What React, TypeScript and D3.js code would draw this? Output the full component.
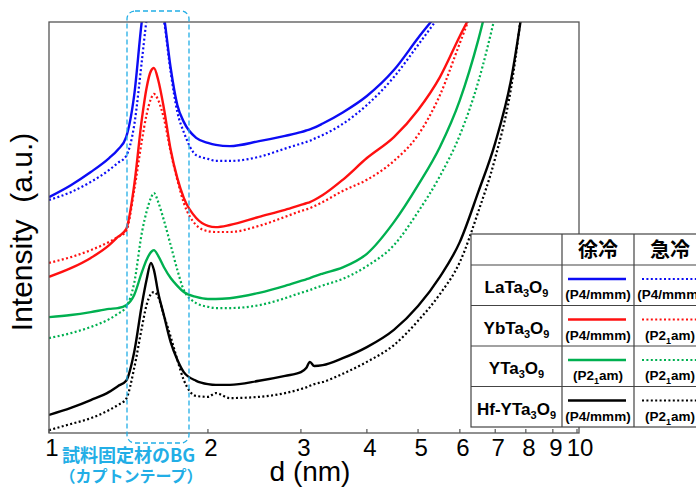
import React from 'react';
import * as d3 from 'd3';

// d spacing grid (nm) shared by every curve
const D = [1.0, 1.1, 1.2, 1.3, 1.35, 1.4, 1.45, 1.5, 1.53, 1.56, 1.58, 1.61, 1.65, 1.7, 1.75, 1.8, 1.9, 2.0, 2.07, 2.2,
  2.5, 2.8, 3.0, 3.07, 3.12, 3.18, 3.3, 3.6, 4, 4.5, 5, 5.5, 6, 6.5, 7, 7.5, 8, 8.5];

// intensity (a.u.), null = beyond the frame
const LA_SLOW = [57.4, 60.3, 63.5, 66.9, 68.9, 72.0, 82.2, 100.5, 107.8, 112.7, 115.1, 110.2, 101.7, 88.8, 79.8, 75.7, 71.8, 70.6, 70.1, 69.8,
  71.0, 72.3, 73.2, 73.6, 73.9, 74.3, 75.3, 78.0, 82.0, 88.3, 96.1, 102.9, 110.2, null, null, null, null, null];
const LA_QUENCH = [56.7, 58.6, 61.1, 64.0, 65.7, 67.4, 74.9, 90.8, 100.5, 107.8, 110.2, 106.6, 100.5, 87.8, 78.1, 73.2, 67.6, 66.7, 66.2, 66.2,
  67.2, 69.2, 70.4, 70.8, 71.1, 71.6, 72.5, 75.2, 79.8, 86.6, 94.4, 101.7, 109.0, null, null, null, null, null];
const YB_SLOW = [38.0, 40.1, 42.6, 45.7, 47.7, 49.6, 60.3, 76.6, 83.9, 88.1, 88.8, 85.9, 79.1, 68.9, 62.0, 57.2, 52.3, 50.4, 50.1, 50.6,
  52.6, 54.3, 55.5, 55.9, 56.2, 56.7, 57.9, 61.6, 66.9, 72.0, 78.6, 86.6, 96.6, 105.4, 115.1, null, null, null];
const YB_QUENCH = [41.4, 42.8, 44.5, 46.5, 47.7, 49.1, 59.1, 71.3, 77.4, 81.3, 82.5, 81.0, 76.6, 68.4, 61.6, 56.0, 50.6, 49.1, 48.9, 48.9,
  50.4, 52.6, 54.0, 54.4, 54.7, 55.2, 56.2, 58.9, 61.6, 66.2, 72.5, 82.2, 94.9, 106.6, 117.5, null, null, null];
const Y_SLOW = [28.2, 28.7, 29.4, 30.2, 30.4, 31.1, 33.6, 39.2, 42.1, 44.0, 44.5, 43.1, 40.4, 37.7, 35.8, 34.3, 33.1, 32.6, 32.6, 32.8,
  34.1, 35.8, 37.0, 37.4, 37.7, 38.1, 38.8, 40.3, 43.6, 51.3, 60.3, 69.6, 81.0, 95.6, 112.7, null, null, null];
const Y_QUENCH = [23.1, 24.3, 25.8, 27.7, 29.0, 30.7, 36.5, 48.9, 53.8, 57.2, 58.4, 56.2, 51.8, 45.7, 39.7, 34.8, 31.6, 30.7, 30.4, 30.4,
  31.1, 32.8, 34.1, 34.5, 34.8, 35.2, 35.9, 37.5, 40.6, 45.7, 53.8, 62.5, 72.5, 85.4, 101.7, 120.0, null, null];
const HF_SLOW = [4.4, 6.1, 8.0, 10.0, 11.4, 12.7, 19.7, 31.4, 37.2, 41.4, 39.7, 34.1, 28.7, 22.1, 17.8, 14.8, 12.7, 11.9, 11.7, 11.7,
  12.7, 13.9, 14.8, 15.8, 17.3, 16.3, 16.5, 18.2, 20.9, 25.1, 30.9, 38.0, 46.5, 58.6, 70.6, 85.9, 109.0, null];
const HF_QUENCH = [0.7, 2.2, 3.6, 5.6, 6.8, 8.3, 15.8, 25.8, 31.1, 33.8, 34.3, 33.1, 28.7, 23.4, 17.8, 12.9, 9.0, 8.8, 9.7, 8.5,
  8.8, 9.7, 10.7, 11.1, 11.5, 11.9, 12.4, 14.4, 17.3, 21.4, 27.3, 33.8, 41.6, 53.8, 66.9, 83.9, 111.4, null];

const X_TICKS = [1, 2, 3, 4, 5, 6, 7, 8, 9, 10];

const SAMPLES = ['LaTa_3O_9', 'YbTa_3O_9', 'YTa_3O_9', 'Hf-YTa_3O_9'];
const SLOW_GROUP = ['(P4/mmm)', '(P4/mmm)', '(P2_1am)', '(P4/mmm)'];
const QUENCH_GROUP = ['(P4/mmm)', '(P2_1am)', '(P2_1am)', '(P2_1am)'];
const COLORS = ['#0c0cf5', '#ff1010', '#00b050', '#000000'];
const SLOW = [LA_SLOW, YB_SLOW, Y_SLOW, HF_SLOW];
const QUENCH = [LA_QUENCH, YB_QUENCH, Y_QUENCH, HF_QUENCH];

const SANS = '"Liberation Sans", Arial, sans-serif';
const CJK = '"Noto Sans CJK JP", sans-serif';
const CYAN = '#22aee6';

// "_3" -> subscript 3
function Rich({ text, sub }: { text: string; sub: number }) {
  const parts = text.split(/(_.)/).filter(Boolean);
  let down = false;
  return (
    <>
      {parts.map((p, i) => {
        if (p[0] === '_') {
          const el = <tspan key={i} fontSize={sub} dy={down ? 0 : 4}>{p[1]}</tspan>;
          down = true;
          return el;
        }
        const el = <tspan key={i} dy={down ? -4 : 0}>{p}</tspan>;
        down = false;
        return el;
      })}
    </>
  );
}

export default function App() {
  const left = 49, top = 22, right = 579, bottom = 433;
  const x = d3.scaleLog().domain([1, 10]).range([left, 577]);
  const y = d3.scaleLinear().domain([0, 100]).range([bottom, top]);

  const line = d3.line<number | null>()
    .defined(v => v != null)
    .x((v, i) => x(D[i]))
    .y(v => y(v as number))
    .curve(d3.curveMonotoneX);

  // legend table geometry
  const tx = [471, 562, 634, 706];
  const ty = [234, 265, 305.5, 346, 386.5, 427];

  return (
    <svg width={696} height={488} style={{ position: 'fixed', left: 0, top: 0, background: '#fff' }}>
      <defs>
        <clipPath id="plot">
          <rect x={left} y={top} width={right - left} height={bottom - top} />
        </clipPath>
      </defs>

      <g clipPath="url(#plot)" fill="none">
        {QUENCH.map((s, i) => (
          <path key={'q' + i} d={line(s) || ''} stroke={COLORS[i]} strokeWidth={2.2} strokeDasharray="2 2.4" />
        ))}
        {SLOW.map((s, i) => (
          <path key={'s' + i} d={line(s) || ''} stroke={COLORS[i]} strokeWidth={2.4} />
        ))}
      </g>

      <rect x={left} y={top} width={right - left} height={bottom - top} fill="none" stroke="#555" strokeWidth={1.3} />
      {X_TICKS.map(t => (
        <g key={t}>
          <line x1={x(t)} x2={x(t)} y1={bottom} y2={bottom - 4} stroke="#555" strokeWidth={1.2} />
          <text x={x(t) + 3} y={456} textAnchor="middle" fontFamily={SANS} fontSize={24}>{t}</text>
        </g>
      ))}
      <text x={310} y={481} textAnchor="middle" fontFamily={SANS} fontSize={28}>d (nm)</text>
      <text transform="translate(32,232) rotate(-90)" textAnchor="middle" fontFamily={SANS} fontSize={30}
        style={{ whiteSpace: 'pre' }}>Intensity  (a.u.)</text>

      {/* sample holder background */}
      <rect x={127} y={11} width={62} height={432} rx={8} fill="none" stroke={CYAN} strokeWidth={1.3} strokeDasharray="5 3" />
      <text x={62} y={462} fontFamily={CJK} fontWeight="bold" fontSize={18} fill={CYAN}>試料固定材のBG</text>
      <text x={131} y={482} textAnchor="middle" fontFamily={CJK} fontWeight="bold" fontSize={16} fill={CYAN}>（カプトンテープ）</text>

      {/* legend table */}
      <g>
        <rect x={tx[0]} y={ty[0]} width={tx[3] - tx[0]} height={ty[5] - ty[0]} fill="#fff" stroke="#444" strokeWidth={1.2} />
        {tx.slice(1, 3).map(v => <line key={v} x1={v} x2={v} y1={ty[0]} y2={ty[5]} stroke="#444" strokeWidth={1.2} />)}
        {ty.slice(1, 5).map(v => <line key={v} x1={tx[0]} x2={tx[3]} y1={v} y2={v} stroke="#444" strokeWidth={1.2} />)}
        <text x={(tx[1] + tx[2]) / 2} y={257} textAnchor="middle" fontFamily={CJK} fontWeight="bold" fontSize={20}>徐冷</text>
        <text x={(tx[2] + tx[3]) / 2} y={257} textAnchor="middle" fontFamily={CJK} fontWeight="bold" fontSize={20}>急冷</text>
        {SAMPLES.map((name, i) => {
          const r = ty[i + 1];
          return (
            <g key={name}>
              <text x={(tx[0] + tx[1]) / 2} y={r + 28} textAnchor="middle" fontFamily={SANS} fontWeight="bold" fontSize={17}>
                <Rich text={name} sub={11} />
              </text>
              <line x1={tx[1] + 6} x2={tx[2] - 8} y1={r + 14} y2={r + 14} stroke={COLORS[i]} strokeWidth={2.4} />
              <text x={(tx[1] + tx[2]) / 2} y={r + 34} textAnchor="middle" fontFamily={SANS} fontWeight="bold" fontSize={13.5}>
                <Rich text={SLOW_GROUP[i]} sub={9} />
              </text>
              <line x1={tx[2] + 8} x2={tx[3] - 6} y1={r + 14} y2={r + 14} stroke={COLORS[i]} strokeWidth={2.2} strokeDasharray="2 2.4" />
              <text x={(tx[2] + tx[3]) / 2} y={r + 34} textAnchor="middle" fontFamily={SANS} fontWeight="bold" fontSize={13.5}>
                <Rich text={QUENCH_GROUP[i]} sub={9} />
              </text>
            </g>
          );
        })}
      </g>
    </svg>
  );
}
